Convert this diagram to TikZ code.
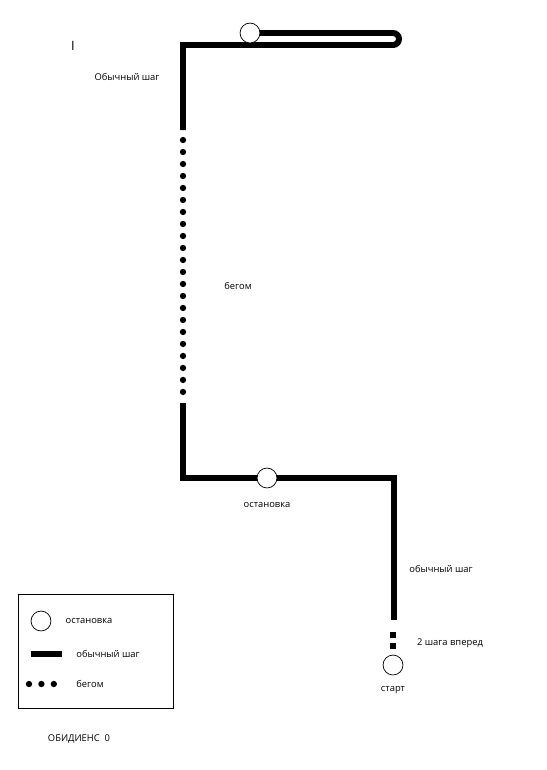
\documentclass[tikz,border=0pt]{standalone}
\usepackage{fontspec}
\setmainfont{Open Sans}
\pgfdeclarelayer{edgelayer}
\pgfdeclarelayer{nodelayer}
\pgfsetlayers{edgelayer,main,nodelayer}
\tikzstyle{walk}=[draw=black, line width=5.1pt]
\tikzstyle{run}=[draw=black, line width=5.4pt, line cap=round, dash pattern=on 0pt off 10.24pt]
\tikzstyle{stepsq}=[draw=black, line width=5.1pt, dash pattern=on 5.1pt off 4.2pt]
\tikzstyle{stop}=[circle, fill=white, draw=black, line width=0.6pt, minimum size=17pt, inner sep=0pt]
\tikzstyle{pt}=[coordinate]
\tikzstyle{label}=[font=\fontsize{8}{9}\selectfont, inner sep=0pt]

\begin{document}
\begin{tikzpicture}[x=0.03cm, y=-0.03cm]
				\useasboundingbox (0, 0) rectangle (546, 770);
				\begin{pgfonlayer}{nodelayer}
					\node [style=stop] (0) at (250, 33) {};
					\node [style=stop] (1) at (267, 478) {};
					\node [style=stop] (2) at (393, 665) {};
					\node [style=stop] (3) at (41, 621) {};
				\end{pgfonlayer}
				\node [style=pt] (4) at (393, 33) {};
				\node [style=pt] (5) at (183, 45) {};
				\node [style=pt] (6) at (183, 130) {};
				\node [style=pt] (7) at (183, 140) {};
				\node [style=pt] (8) at (183, 393) {};
				\node [style=pt] (9) at (183, 403) {};
				\node [style=pt] (10) at (183, 478) {};
				\node [style=pt] (11) at (394, 478) {};
				\node [style=pt] (12) at (394, 620) {};
				\node [style=pt] (13) at (393, 632) {};
				\node [style=pt] (14) at (393, 651) {};
				\node [style=pt] (15) at (31, 654) {};
				\node [style=pt] (16) at (62, 654) {};
				\node [style=pt] (17) at (29, 684) {};
				\node [style=pt] (18) at (54, 684) {};
				\node [style=pt] (19) at (18, 594) {};
				\node [style=pt] (20) at (173, 708) {};
				\node [style=label] (21) at (127, 77) {Обычный шаг};
				\node [style=label] (22) at (238, 286) {бегом};
				\node [style=label] (23) at (267, 505) {остановка};
				\node [style=label] (24) at (441, 569) {обычный шаг};
				\node [style=label] (25) at (450, 643) {2 шага вперед};
				\node [style=label] (26) at (393, 690) {старт};
				\node [style=label] (27) at (89, 621) {остановка};
				\node [style=label] (28) at (108, 654) {обычный шаг};
				\node [style=label] (29) at (90, 684) {бегом};
				\node [style=label] (30) at (79, 739) {ОБИДИЕНС\ \ 0};
				\node [style=label, font=\fontsize{11}{11}\selectfont] (31) at (73, 46) {I};
				\begin{pgfonlayer}{edgelayer}
					\draw [style=walk] (0.center) -- (4) arc[start angle=-90, end angle=90, radius=6] -- (5) -- (6);
					\draw [style=run] (7) to (8);
					\draw [style=walk] (9) -- (10) -- (11) -- (12);
					\draw [style=stepsq] (13) to (14);
					\draw [style=walk] (15) to (16);
					\draw [style=run, dash pattern=on 0pt off 10.6pt] (17) to (18);
					\draw [line width=0.8pt] (19) rectangle (20);
				\end{pgfonlayer}
			\end{tikzpicture}
\end{document}
